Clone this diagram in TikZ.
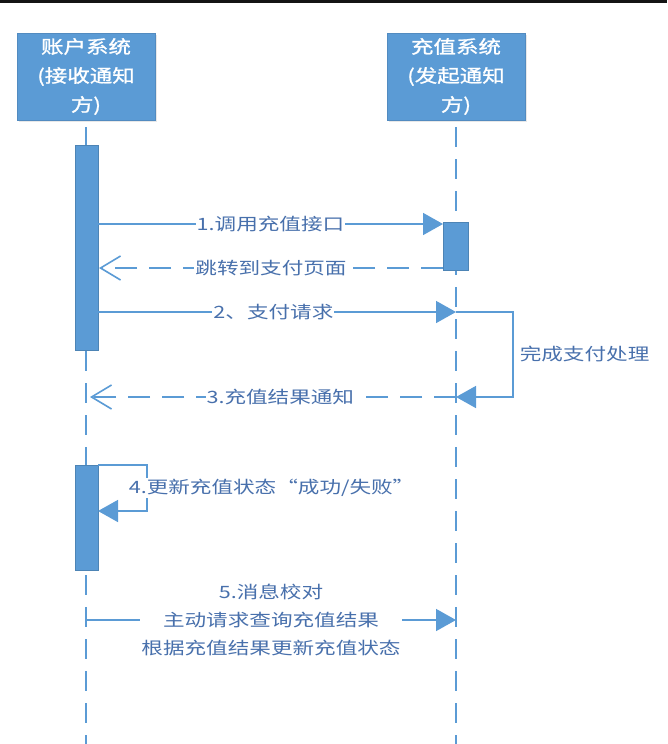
\documentclass[tikz,border=0pt]{standalone}
\usepackage{fontspec}
\newfontfamily\cjk[FakeStretch=1.27]{Noto Sans CJK SC}
\newfontfamily\cjkb[FakeStretch=1.25,FakeBold=1.2]{Noto Sans CJK SC}
\usetikzlibrary{arrows.meta,shadows}
\definecolor{ublue}{RGB}{91,155,213}
\definecolor{tblue}{RGB}{72,112,172}
\begin{document}
\begin{tikzpicture}[x=1pt,y=-1pt,
  actor/.style={fill=ublue, draw=ublue!90!black, line width=0.6pt, minimum width=138pt, minimum height=87pt,
    text=white, align=center, font=\cjkb\fontsize{18}{29}\selectfont,
    drop shadow={opacity=0.18, shadow xshift=1.5pt, shadow yshift=-1.5pt}},
  life/.style={draw=ublue, line width=1.6pt, dash pattern=on 20pt off 12pt, dash phase=25pt},
  actbar/.style={fill=ublue, draw=ublue!85!black, line width=0.6pt, inner sep=0pt},
  msg/.style={draw=ublue, line width=1.6pt},
  rmsg/.style={msg, dash pattern=on 22pt off 12pt},
  fhead/.style={-{Triangle[length=20pt,width=22pt]}},
  ohead/.style={-{Straight Barb[length=20pt,width=24pt,line width=1.6pt]}},
  lbl/.style={fill=white, text=tblue, inner sep=1pt, align=center, font=\cjk\fontsize{17}{28}\selectfont}
]
\useasboundingbox (0,0) rectangle (667,744);
\fill[black!92] (0,0) rectangle (667,3);

% actors
\node[actor] (A) at (86,76.5) {账户系统\\(接收通知\\方)};
\node[actor] (B) at (456,76.5) {充值系统\\(发起通知\\方)};
\coordinate (Aend) at (86,744);
\coordinate (Bend) at (456,744);
\draw[life] (A.south) -- (Aend);
\draw[life] (B.south) -- (Bend);

% activation bars
\node[actbar, minimum width=23pt, minimum height=205pt] (A1) at (86.5,247.5) {};
\node[actbar, minimum width=25pt, minimum height=48pt] (B1) at (455.5,246) {};
\node[actbar, minimum width=23pt, minimum height=105pt] (A2) at (86.5,517.5) {};

% points on lifelines
\coordinate (a1) at (98,224);
\coordinate (b1) at (443,224);
\coordinate (b1r) at (443,268);
\coordinate (a1r) at (99,268);
\coordinate (a2) at (98,312);
\coordinate (b2) at (456,312);
\coordinate (b3) at (456,397);
\coordinate (a3) at (90,397);
\coordinate (a4) at (98,465);
\coordinate (a4r) at (98,511);
\coordinate (a5) at (86,620);
\coordinate (b5) at (456,620);

% 1
\draw[msg, fhead] (a1) -- (b1) node[lbl, pos=0.5] (L1) {1.调用充值接口};
\draw[rmsg, ohead] (b1r) -- (a1r) node[lbl, pos=0.5] (L1r) {跳转到支付页面};
% 2
\draw[msg, fhead] (a2) -- (b2) node[lbl, pos=0.49] (L2) {2、支付请求};
\draw[msg, fhead] (b2) -- ++(57,0) |- (b3) node[lbl, fill=none, pos=0.25, anchor=west, xshift=5pt] (Lp) {完成支付处理};
% 3
\draw[rmsg, ohead] (b3) -- (a3) node[lbl, pos=0.48] (L3) {3.充值结果通知};
% 4
\draw[msg, fhead] (a4) -- ++(49,0) |- (a4r)
  node[lbl, pos=0.25, anchor=west, xshift=-20pt] (L4) {4.更新充值状态“成功/失败”};
% 5
\draw[msg, fhead] (a5) -- (b5) node[lbl, pos=0.5] (L5) {5.消息校对\\主动请求查询充值结果\\根据充值结果更新充值状态};
\end{tikzpicture}
\end{document}
